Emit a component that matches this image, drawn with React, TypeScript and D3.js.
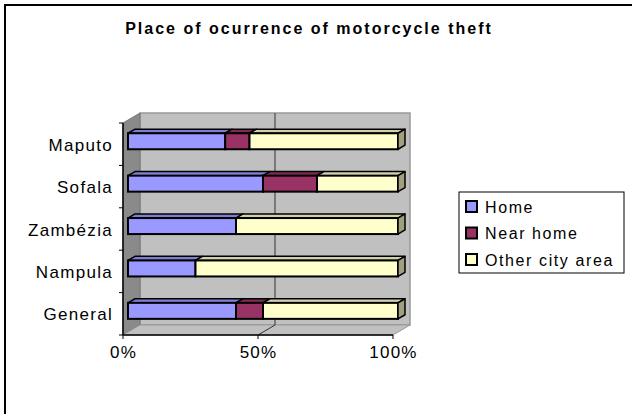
import * as d3 from "d3"

const categories = ["Maputo", "Sofala", "Zambézia", "Nampula", "General"]
const seriesNames = ["Home", "Near home", "Other city area"]
const homeValues = [36, 50, 40, 25, 40]
const nearHomeValues = [9, 20, 0, 0, 10]
const otherValues = [55, 30, 60, 75, 50]
const xTicks = [0, 50, 100]
const colors = ["#9999ff", "#993366", "#ffffcc"]

const font = "'Liberation Sans', Arial, sans-serif"

// 3D depth of the plot (back wall offset from the front plane)
const depthX = 17
const depthY = -10

export default function App() {
  const x = d3.scaleLinear().domain([0, 100]).range([123, 393])
  const y = d3.scaleBand<string>().domain(categories).range([123, 335])

  const rows = categories.map((c, i) => ({
    category: c,
    Home: homeValues[i],
    "Near home": nearHomeValues[i],
    "Other city area": otherValues[i],
  }))
  const stacked = d3.stack<any>().keys(seriesNames)(rows)

  const top = 123
  const bottom = 335
  const left = x(0)
  const right = x(100)

  // bar sits between gap 5/17 and 12/17 of the depth
  const offX = depthX * (5 / 17)
  const offY = depthY * (5 / 17)
  const barDx = depthX * (7 / 17)
  const barDy = depthY * (7 / 17)
  const barH = 16

  const poly = (pts: [number, number][]) => pts.map((p) => p.join(",")).join(" ")

  const bars: JSX.Element[] = []
  categories.forEach((c, ci) => {
    const cy = (y(c) as number) + y.bandwidth() / 2
    const y0 = cy - barH / 2 + offY
    const y1 = cy + barH / 2 + offY
    let lastEnd = -1
    stacked.forEach((s, si) => {
      if (s[ci][1] - s[ci][0] > 0) lastEnd = si
    })
    stacked.forEach((s, si) => {
      const [v0, v1] = s[ci]
      if (v1 - v0 <= 0) return
      const x0 = x(v0) + offX
      const x1 = x(v1) + offX
      const base = d3.color(colors[si])!
      bars.push(
        <g key={`${c}-${si}`}>
          <polygon
            points={poly([[x0, y0], [x1, y0], [x1 + barDx, y0 + barDy], [x0 + barDx, y0 + barDy]])}
            fill={base.darker(0.55).toString()}
            stroke="#000"
            strokeWidth={1.5}
            strokeLinejoin="round"
          />
          <rect x={x0} y={y0} width={x1 - x0} height={y1 - y0} fill={colors[si]} stroke="#000" strokeWidth={2} />
          {si === lastEnd && (
            <polygon
              points={poly([[x1, y0], [x1 + barDx, y0 + barDy], [x1 + barDx, y1 + barDy], [x1, y1]])}
              fill={base.darker(1.3).toString()}
              stroke="#000"
              strokeWidth={1.5}
              strokeLinejoin="round"
            />
          )}
        </g>
      )
    })
  })

  return (
    <svg width={632} height={414} style={{ position: "absolute", left: 0, top: 0 }}>
      <rect x={0} y={0} width={632} height={414} fill="#fff" />
      <rect x={5} y={5} width={700} height={500} fill="none" stroke="#000" strokeWidth={2} />

      <text x={309} y={34} textAnchor="middle" fontFamily={font} fontWeight="bold" fontSize={16} letterSpacing={2}>
        Place of ocurrence of motorcycle theft
      </text>

      {/* walls */}
      <polygon
        points={poly([[left + depthX, top + depthY], [right + depthX, top + depthY], [right + depthX, bottom + depthY], [left + depthX, bottom + depthY]])}
        fill="#c0c0c0"
        stroke="#999"
        strokeWidth={1.5}
      />
      <polygon
        points={poly([[left, top], [left + depthX, top + depthY], [left + depthX, bottom + depthY], [left, bottom]])}
        fill="#8a8a8a"
        stroke="#777"
        strokeWidth={1}
      />
      <polygon
        points={poly([[left, bottom], [left + depthX, bottom + depthY], [right + depthX, bottom + depthY], [right, bottom]])}
        fill="#c0c0c0"
        stroke="#999"
        strokeWidth={1}
      />

      {/* gridlines */}
      {xTicks.slice(1, -1).map((t) => (
        <g key={`g${t}`} stroke="#333" strokeWidth={1}>
          <line x1={x(t) + depthX} x2={x(t) + depthX} y1={top + depthY} y2={bottom + depthY} />
          <line x1={x(t)} x2={x(t) + depthX} y1={bottom} y2={bottom + depthY} />
        </g>
      ))}

      {/* axes */}
      <line x1={left} x2={left} y1={top} y2={bottom} stroke="#000" strokeWidth={1.5} />
      <line x1={left} x2={right} y1={bottom} y2={bottom} stroke="#000" strokeWidth={1.5} />
      {categories.concat(["_end"]).map((c, i) => {
        const ty = top + i * y.step()
        return <line key={`yt${i}`} x1={left - 4} x2={left} y1={ty} y2={ty} stroke="#000" strokeWidth={1} />
      })}
      {xTicks.map((t) => (
        <g key={`xt${t}`}>
          <line x1={x(t)} x2={x(t)} y1={bottom} y2={bottom + 4} stroke="#000" strokeWidth={1} />
          <text x={x(t) + 0.5} y={358} textAnchor="middle" fontFamily={font} fontSize={17} letterSpacing={1.2}>
            {t}%
          </text>
        </g>
      ))}

      {categories.map((c) => (
        <text
          key={`cl${c}`}
          x={113}
          y={(y(c) as number) + y.bandwidth() / 2 + 6.5}
          textAnchor="end"
          fontFamily={font}
          fontSize={17}
          letterSpacing={1.3}
        >
          {c}
        </text>
      ))}

      {bars}

      {/* legend */}
      <rect x={459} y={192} width={165} height={81} fill="#fff" stroke="#000" strokeWidth={1} />
      {seriesNames.map((n, i) => (
        <g key={`lg${n}`} transform={`translate(466, ${201 + i * 26.5})`}>
          <rect x={0} y={0} width={11} height={11} fill={colors[i]} stroke="#000" strokeWidth={2} />
          <text x={19} y={11.5} fontFamily={font} fontSize={16} letterSpacing={1.6}>
            {n}
          </text>
        </g>
      ))}
    </svg>
  )
}
